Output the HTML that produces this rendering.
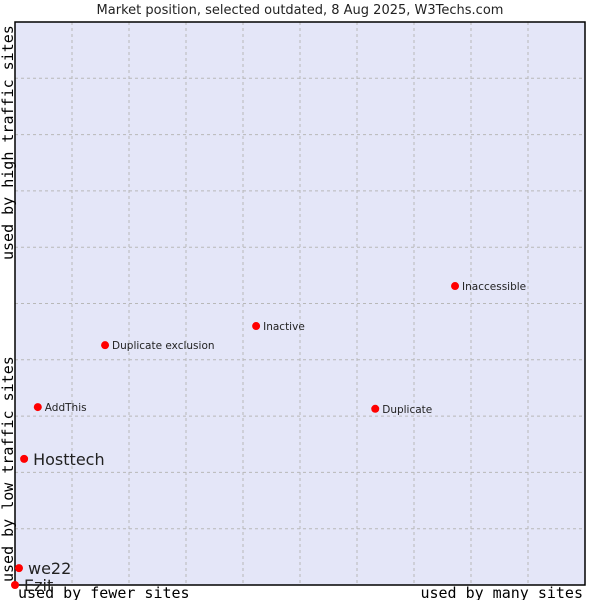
<!DOCTYPE html>
<html><head><meta charset="utf-8"><style>body{margin:0;background:#fff}svg{display:block}</style></head>
<body>
<svg id="chart" width="600" height="600" xmlns="http://www.w3.org/2000/svg" font-family="DejaVu Sans, sans-serif">
<text x="300" y="14" text-anchor="middle" font-size="13" fill="#222">Market position, selected outdated, 8 Aug 2025, W3Techs.com</text>
<rect x="15" y="22" width="570" height="563" fill="#e4e6f8" stroke="none"/>
<g id="grid"></g>
<rect x="15" y="22" width="570" height="563" stroke="#000" stroke-width="1.5" fill="none"/>
<text x="18" y="598" font-family="DejaVu Sans Mono, monospace" font-size="15" fill="#000">used by fewer sites</text>
<text x="583" y="598" text-anchor="end" font-family="DejaVu Sans Mono, monospace" font-size="15" fill="#000">used by many sites</text>
<text transform="translate(13,582) rotate(-90)" font-family="DejaVu Sans Mono, monospace" font-size="15" fill="#000">used by low traffic sites</text>
<text transform="translate(13,260) rotate(-90)" font-family="DejaVu Sans Mono, monospace" font-size="15" fill="#000">used by high traffic sites</text>
<g id="points"></g>
</svg>
<script>
const names=["Ezit","we22","Hosttech","AddThis","Duplicate exclusion","Inactive","Duplicate","Inaccessible"];
const xVals=[0,0.7,1.6,4.0,15.8,42.3,63.2,77.2];
const yVals=[0,3.0,22.4,31.6,42.6,46.0,31.3,53.1];
const bigLabel=[true,true,true,false,false,false,false,false];
const NS="http://www.w3.org/2000/svg";
const L=15,R=585,T=22,B=585;
const xs=v=>L+v/100*(R-L), ys=v=>B-v/100*(B-T);
const grid=document.getElementById('grid');
for(let i=1;i<10;i++){
  const gx=document.createElementNS(NS,'line');
  
  
  const x=L+i*(R-L)/10;
  gx.setAttribute('x1',x);gx.setAttribute('x2',x);gx.setAttribute('y1',T);gx.setAttribute('y2',B);
  gx.setAttribute('stroke','#b8b8b8');gx.setAttribute('stroke-dasharray','3,3');
  grid.appendChild(gx);
  const gy=document.createElementNS(NS,'line');
  
  
  const y=T+i*(B-T)/10;
  gy.setAttribute('x1',L);gy.setAttribute('x2',R);gy.setAttribute('y1',y);gy.setAttribute('y2',y);
  gy.setAttribute('stroke','#b8b8b8');gy.setAttribute('stroke-dasharray','3,3');
  grid.appendChild(gy);
}
const pts=document.getElementById('points');
names.forEach((n,i)=>{
  const x=xs(xVals[i]),y=ys(yVals[i]);
  const p=document.createElementNS(NS,'circle');
  
  
  p.setAttribute('cx',x);p.setAttribute('cy',y);p.setAttribute('r',4);
  p.setAttribute('fill','#f00');
  pts.appendChild(p);
  const t=document.createElementNS(NS,'text');
  
  
  t.setAttribute('x',x+(bigLabel[i]?9:7));
  t.setAttribute('y',y+(bigLabel[i]?6:4));
  t.setAttribute('font-size',bigLabel[i]?16:10.5);
  t.setAttribute('fill','#222');
  t.textContent=n;
  pts.appendChild(t);
});
</script>
</body></html>
